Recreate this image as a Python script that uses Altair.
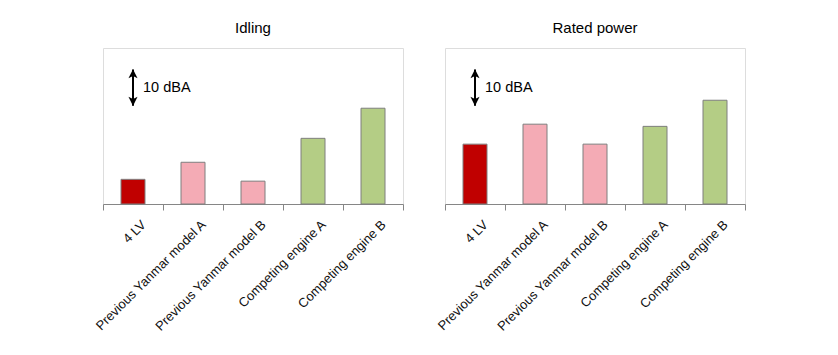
import altair as alt
import pandas as pd

categories = ["4 LV", "Previous Yanmar model A", "Previous Yanmar model B",
              "Competing engine A", "Competing engine B"]
groups = ["4LV", "Previous", "Previous", "Competing", "Competing"]
idling_dba = [6.8, 11.5, 6.3, 18.1, 26.4]
rated_dba = [16.5, 22.0, 16.5, 21.4, 28.6]
scale_bar_low = 27.1
scale_bar_high = 37.1
scale_bar_text = "10 dBA"
panel_titles = ["Idling", "Rated power"]
group_names = ["4LV", "Previous", "Competing"]
group_colors = ["#C00000", "#F4ABB5", "#B4CD85"]

FONT = "Liberation Sans"
UP = "M0,-1 L0.8,0.6 L0,0.2 L-0.8,0.6 Z"
DOWN = "M0,1 L0.8,-0.6 L0,-0.2 L-0.8,-0.6 Z"


def panel(title, values):
    df = pd.DataFrame({"category": categories, "group": groups, "value": values})
    x = alt.X("category:N", sort=categories,
              scale=alt.Scale(paddingInner=0, paddingOuter=0),
              axis=alt.Axis(title=None, labelAngle=-45, tickBand="extent",
                            labelAlign="right", labelBaseline="top", labelOffset=6,
                            labelFontSize=13, labelColor="#111111", labelFont=FONT,
                            domainColor="#868686", tickColor="#868686",
                            tickSize=6, labelPadding=8))
    y = alt.Y("value:Q", scale=alt.Scale(domain=[0, 43], nice=False, zero=True), axis=None)
    bars = alt.Chart(df).mark_bar(width=alt.RelativeBandSize(0.4),
                                  stroke="#7f7f7f", strokeWidth=1).encode(
        x=x, y=y,
        color=alt.Color("group:N", scale=alt.Scale(domain=group_names, range=group_colors),
                        legend=None))
    sb = pd.DataFrame({"category": [categories[0]], "low": [scale_bar_low],
                       "high": [scale_bar_high],
                       "mid": [(scale_bar_low + scale_bar_high) / 2],
                       "label": [scale_bar_text]})
    xs = alt.X("category:N", sort=categories)
    rule = alt.Chart(sb).mark_rule(strokeWidth=2, color="black").encode(
        x=xs, y=alt.Y("low:Q"), y2="high:Q")
    up = alt.Chart(sb).mark_point(shape=UP, filled=True, size=130, color="black",
                                  opacity=1, yOffset=5.5).encode(x=xs, y="high:Q")
    down = alt.Chart(sb).mark_point(shape=DOWN, filled=True, size=130, color="black",
                                    opacity=1, yOffset=-5.5).encode(x=xs, y="low:Q")
    txt = alt.Chart(sb).mark_text(align="left", baseline="middle", dx=10, fontSize=14.5,
                                  font=FONT, color="black").encode(
        x=xs, y="mid:Q", text="label:N")
    return alt.layer(bars, rule, up, down, txt).properties(
        width=300, height=156,
        title=alt.TitleParams(title, fontSize=15, fontWeight="normal", font=FONT,
                              color="black", offset=12, anchor="middle"))


chart = alt.hconcat(panel(panel_titles[0], idling_dba), panel(panel_titles[1], rated_dba),
                    spacing=42, bounds="flush").properties(
    padding={"left": 92, "top": 20, "right": 5, "bottom": 5}
).configure_view(stroke="#868686", strokeWidth=1).configure(font=FONT)

chart.save("out.html", embed_options={"renderer": "svg", "actions": False})
